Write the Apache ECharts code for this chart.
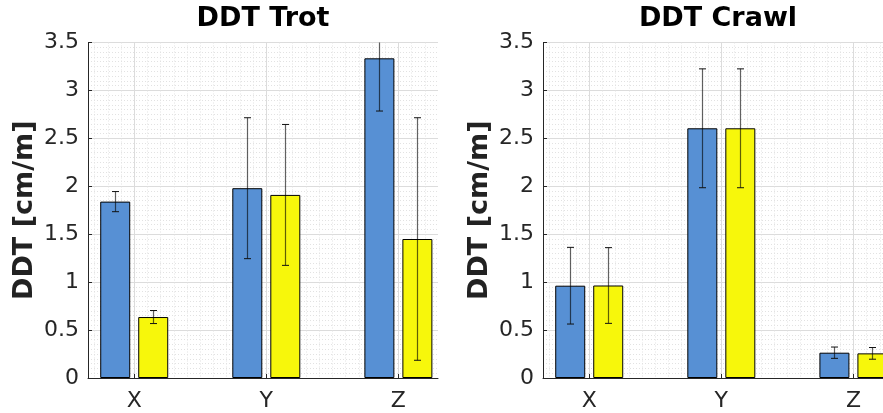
<!DOCTYPE html>
<html>
<head>
<meta charset="utf-8">
<script src="https://cdn.jsdelivr.net/npm/echarts@6/dist/echarts.min.js"></script>
<style>
  html, body { margin: 0; padding: 0; background: #fff; }
  #chart { width: 883px; height: 413px; }
</style>
</head>
<body>
<div id="chart"></div>
<script>
// Axis categories (drawn at x = 1, 2, 3)
const categories = ['X', 'Y', 'Z'];

// DDT Trot: mean and standard deviation of the two groups
const trotMeanA = [1.84, 1.98, 3.335];
const trotStdA  = [0.105, 0.735, 0.55];
const trotMeanB = [0.636, 1.91, 1.45];
const trotStdB  = [0.068, 0.735, 1.265];

// DDT Crawl: mean and standard deviation of the two groups
const crawlMeanA = [0.963, 2.605, 0.264];
const crawlStdA  = [0.40, 0.62, 0.059];
const crawlMeanB = [0.965, 2.605, 0.257];
const crawlStdB  = [0.395, 0.62, 0.061];

const titles = ['DDT Trot', 'DDT Crawl'];
const yAxisName = 'DDT [cm/m]';

const BLUE = '#5790d4';
const YELLOW = '#f7f70b';
const AXIS = '#262626';
const FONT = 'DejaVu Sans';
const BAR_W = 30;
const BAR_GAP = 8;

// x range of each panel; the right panel runs off the canvas edge,
// so its grid stops at the edge with a correspondingly smaller max
const X_MIN = 0.65;
const PX_PER_UNIT = 132.1;
const GRID_TOP = 42.5, GRID_H = 335.5;
const panels = [
  { left: 88,  width: 350, groups: [[trotMeanA, trotStdA], [trotMeanB, trotStdB]] },
  { left: 543, width: 340, groups: [[crawlMeanA, crawlStdA], [crawlMeanB, crawlStdB]] }
];

const grid = [], xAxis = [], yAxis = [], series = [], title = [];

panels.forEach((p, i) => {
  grid.push({ left: p.left, top: GRID_TOP, width: p.width, height: GRID_H, containLabel: false });
  title.push({
    text: titles[i], left: p.left + 350 / 2, top: 5, textAlign: 'center', padding: 0,
    textStyle: { fontFamily: FONT, fontWeight: 'bold', fontSize: 27, color: '#000' }
  });
  xAxis.push({
    type: 'value', gridIndex: i, min: X_MIN, max: +(X_MIN + p.width / PX_PER_UNIT).toFixed(3),
    splitNumber: 3, minInterval: 1,
    axisLine: { show: true, onZero: false, lineStyle: { color: AXIS, width: 1 } },
    axisTick: { show: true, inside: true, length: 4, lineStyle: { color: AXIS } },
    axisLabel: {
      show: true, margin: 12, fontFamily: FONT, fontSize: 22, color: AXIS,
      showMinLabel: false, showMaxLabel: false,
      formatter: v => {
        const k = Math.round(v);
        return Math.abs(v - k) < 1e-6 && k >= 1 && k <= categories.length ? categories[k - 1] : '';
      }
    },
    splitLine: { show: true, showMinLine: false, showMaxLine: false, lineStyle: { color: '#dcdcdc', width: 1 } },
    minorTick: { show: false, splitNumber: 10 },
    minorSplitLine: { show: true, lineStyle: { color: '#e2e2e2', width: 1, type: [1, 2] } }
  });
  yAxis.push({
    type: 'value', gridIndex: i, min: 0, max: 3.5, interval: 0.5,
    name: yAxisName, nameLocation: 'middle', nameGap: 50, nameRotate: 90,
    nameTextStyle: { fontFamily: FONT, fontWeight: 'bold', fontSize: 27, color: '#222' },
    axisLine: { show: true, onZero: false, lineStyle: { color: AXIS, width: 1 } },
    axisTick: { show: true, inside: true, length: 4, lineStyle: { color: AXIS } },
    axisLabel: { margin: 9, fontFamily: FONT, fontSize: 22, color: AXIS },
    splitLine: { show: true, lineStyle: { color: '#dcdcdc', width: 1 } },
    minorTick: { show: false, splitNumber: 10 },
    minorSplitLine: { show: true, lineStyle: { color: '#e2e2e2', width: 1, type: [1, 2] } }
  });

  p.groups.forEach((g, j) => {
    const [means, stds] = g;
    series.push({
      type: 'bar', xAxisIndex: i, yAxisIndex: i, z: 2,
      barWidth: BAR_W, barGap: (BAR_GAP / BAR_W * 100) + '%',
      data: means.map((m, k) => [k + 1, m]),
      itemStyle: { color: j === 0 ? BLUE : YELLOW, borderColor: '#000', borderWidth: 1 },
      emphasis: { disabled: true }, animation: false
    });
    const offset = (j === 0 ? -1 : 1) * (BAR_W + BAR_GAP) / 2;
    series.push({
      type: 'custom', xAxisIndex: i, yAxisIndex: i, z: 3, clip: true, animation: false,
      data: means.map((m, k) => [k + 1, m - stds[k], m + stds[k]]),
      renderItem: (params, api) => {
        const x = api.value(0);
        const lo = api.coord([x, api.value(1)]);
        const hi = api.coord([x, api.value(2)]);
        const cx = Math.round(lo[0] + offset) + 0.5;
        const cap = { stroke: '#111', lineWidth: 1 };
        return {
          type: 'group',
          children: [
            { type: 'line', shape: { x1: cx, y1: lo[1], x2: cx, y2: hi[1] }, style: { stroke: 'rgba(0,0,0,0.62)', lineWidth: 1.2 } },
            { type: 'line', shape: { x1: cx - 3.5, y1: lo[1], x2: cx + 3.5, y2: lo[1] }, style: cap },
            { type: 'line', shape: { x1: cx - 3.5, y1: hi[1], x2: cx + 3.5, y2: hi[1] }, style: cap }
          ]
        };
      }
    });
  });
});

const chart = echarts.init(document.getElementById('chart'), null, { renderer: 'canvas' });
chart.setOption({ animation: false, backgroundColor: '#fff', title, grid, xAxis, yAxis, series });
</script>
</body>
</html>
